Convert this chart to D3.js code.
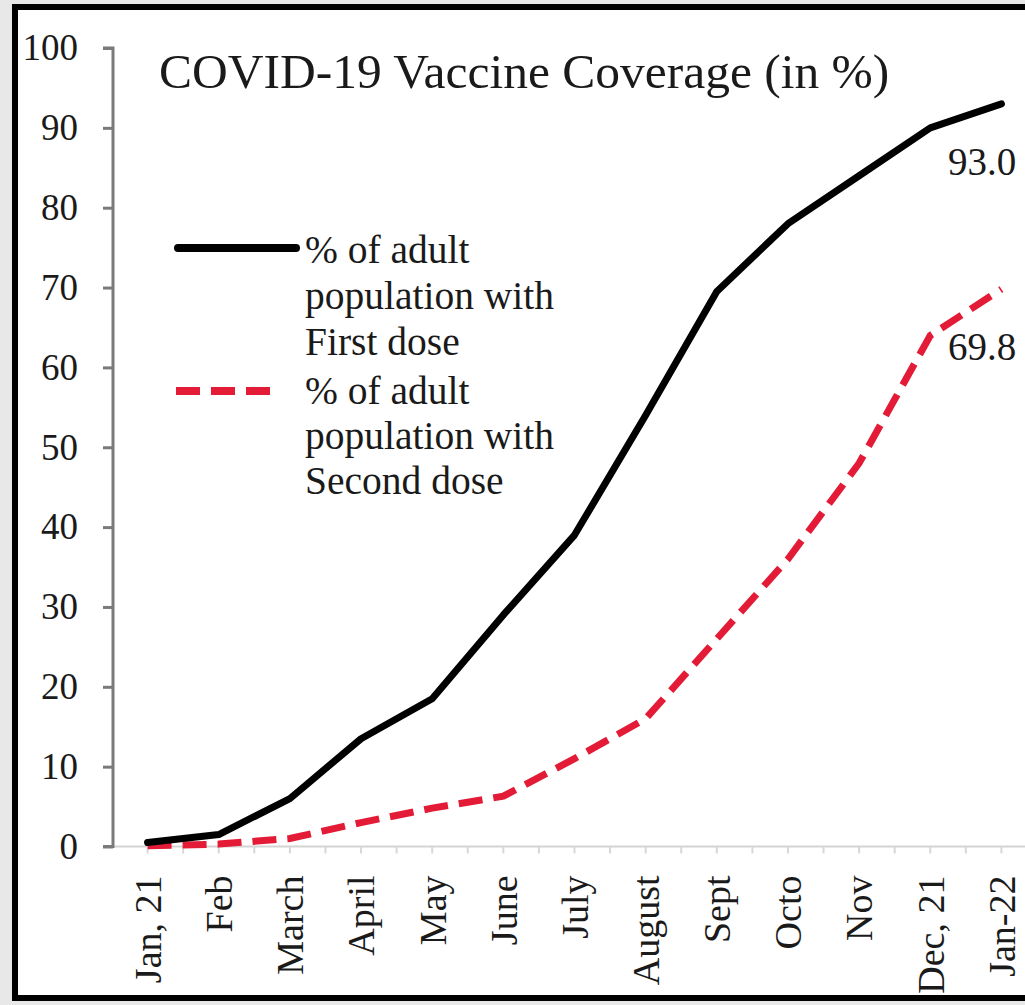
<!DOCTYPE html>
<html>
<head>
<meta charset="utf-8">
<script src="https://cdn.jsdelivr.net/npm/d3@7"></script>
<style>
  html, body { margin: 0; padding: 0; background: #e8e8e8; }
  svg { display: block; }
  text { font-family: "Liberation Serif", "Times New Roman", serif; fill: #1a1a1a; }
</style>
</head>
<body>
<svg id="chart" width="1025" height="1005"></svg>
<script>
const months = ["Jan, 21", "Feb", "March", "April", "May", "June", "July", "August", "Sept", "Octo", "Nov", "Dec, 21", "Jan-22"];
const firstDose = [0.5, 1.5, 6, 13.5, 18.5, 29, 39, 54, 69.5, 78, 84, 90, 93.0];
const secondDose = [0.1, 0.3, 1, 3, 4.8, 6.3, 11, 16, 26, 36, 48, 64, 69.8];
const yTicks = [0, 10, 20, 30, 40, 50, 60, 70, 80, 90, 100];
const title = "COVID-19 Vaccine Coverage (in %)";
const legendFirst = ["% of adult", "population with", "First dose"];
const legendSecond = ["% of adult", "population with", "Second dose"];
const endLabels = ["93.0", "69.8"];

const svg = d3.select("#chart");

// frame
svg.append("rect").attr("x", 15).attr("y", 7).attr("width", 1040).attr("height", 991)
  .attr("fill", "#fff").attr("stroke", "#000").attr("stroke-width", 6);

const x = d3.scaleBand().domain(months).range([112, 1037]);
const y = d3.scaleLinear().domain([0, 100]).range([846.5, 48]);
const cx = d => x(d) + x.bandwidth() / 2;

// x axis
const xAxis = svg.append("g").attr("transform", "translate(0,846.5)");
xAxis.append("line").attr("x1", 113).attr("x2", 1030).attr("stroke", "#d4d4d4").attr("stroke-width", 2);
const halfTicks = [];
months.forEach(m => { halfTicks.push(x(m)); halfTicks.push(cx(m)); });
xAxis.selectAll("line.t").data(halfTicks.slice(1)).join("line").attr("class", "t")
  .attr("x1", d => d).attr("x2", d => d).attr("y1", 0).attr("y2", 7)
  .attr("stroke", "#d8d8d8").attr("stroke-width", 2);
xAxis.selectAll("text").data(months).join("text")
  .attr("transform", d => `translate(${cx(d)},29) rotate(-90)`)
  .attr("text-anchor", "end").attr("dy", "0.35em")
  .style("font-size", "38px").text(d => d);

// y axis
const yAxis = d3.axisLeft(y).tickValues(yTicks).tickSize(10).tickPadding(25);
const yg = svg.append("g").attr("transform", "translate(113,0)").call(yAxis);
yg.select(".domain").attr("stroke", "#7a7a7a").attr("stroke-width", 3).attr("d", `M-10,${y(100)}H0V${y(0)}H-10`);
yg.selectAll(".tick line").attr("stroke", "#7a7a7a").attr("stroke-width", 3);
yg.selectAll(".tick text").style("font-size", "37px").style("font-family", "Liberation Serif, serif").attr("fill", "#1a1a1a");

// lines
const line = d3.line().x((d, i) => cx(months[i])).y(d => y(d));
svg.append("path").datum(secondDose).attr("d", line).attr("fill", "none")
  .attr("stroke", "#e31b36").attr("stroke-width", 7).attr("stroke-dasharray", "24,11");
svg.append("path").datum(firstDose).attr("d", line).attr("fill", "none")
  .attr("stroke", "#000").attr("stroke-width", 7).attr("stroke-linejoin", "round").attr("stroke-linecap", "round");

// end labels
svg.append("text").attr("x", 948).attr("y", 175).style("font-size", "39px").text(endLabels[0]);
svg.append("text").attr("x", 948).attr("y", 360).style("font-size", "39px").text(endLabels[1]);

// title
svg.append("text").attr("x", 159).attr("y", 88).style("font-size", "49.5px").text(title);

// legend
svg.append("line").attr("x1", 178).attr("x2", 296).attr("y1", 248).attr("y2", 248)
  .attr("stroke", "#000").attr("stroke-width", 8).attr("stroke-linecap", "round");
svg.append("line").attr("x1", 176).attr("x2", 280).attr("y1", 391).attr("y2", 391)
  .attr("stroke", "#e31b36").attr("stroke-width", 8).attr("stroke-dasharray", "24,11");
svg.append("g").selectAll("text").data(legendFirst).join("text")
  .attr("x", 305).attr("y", (d, i) => 263 + i * 46).style("font-size", "39.5px").text(d => d);
svg.append("g").selectAll("text").data(legendSecond).join("text")
  .attr("x", 305).attr("y", (d, i) => 404 + i * 45).style("font-size", "39.5px").text(d => d);
</script>
</body>
</html>
